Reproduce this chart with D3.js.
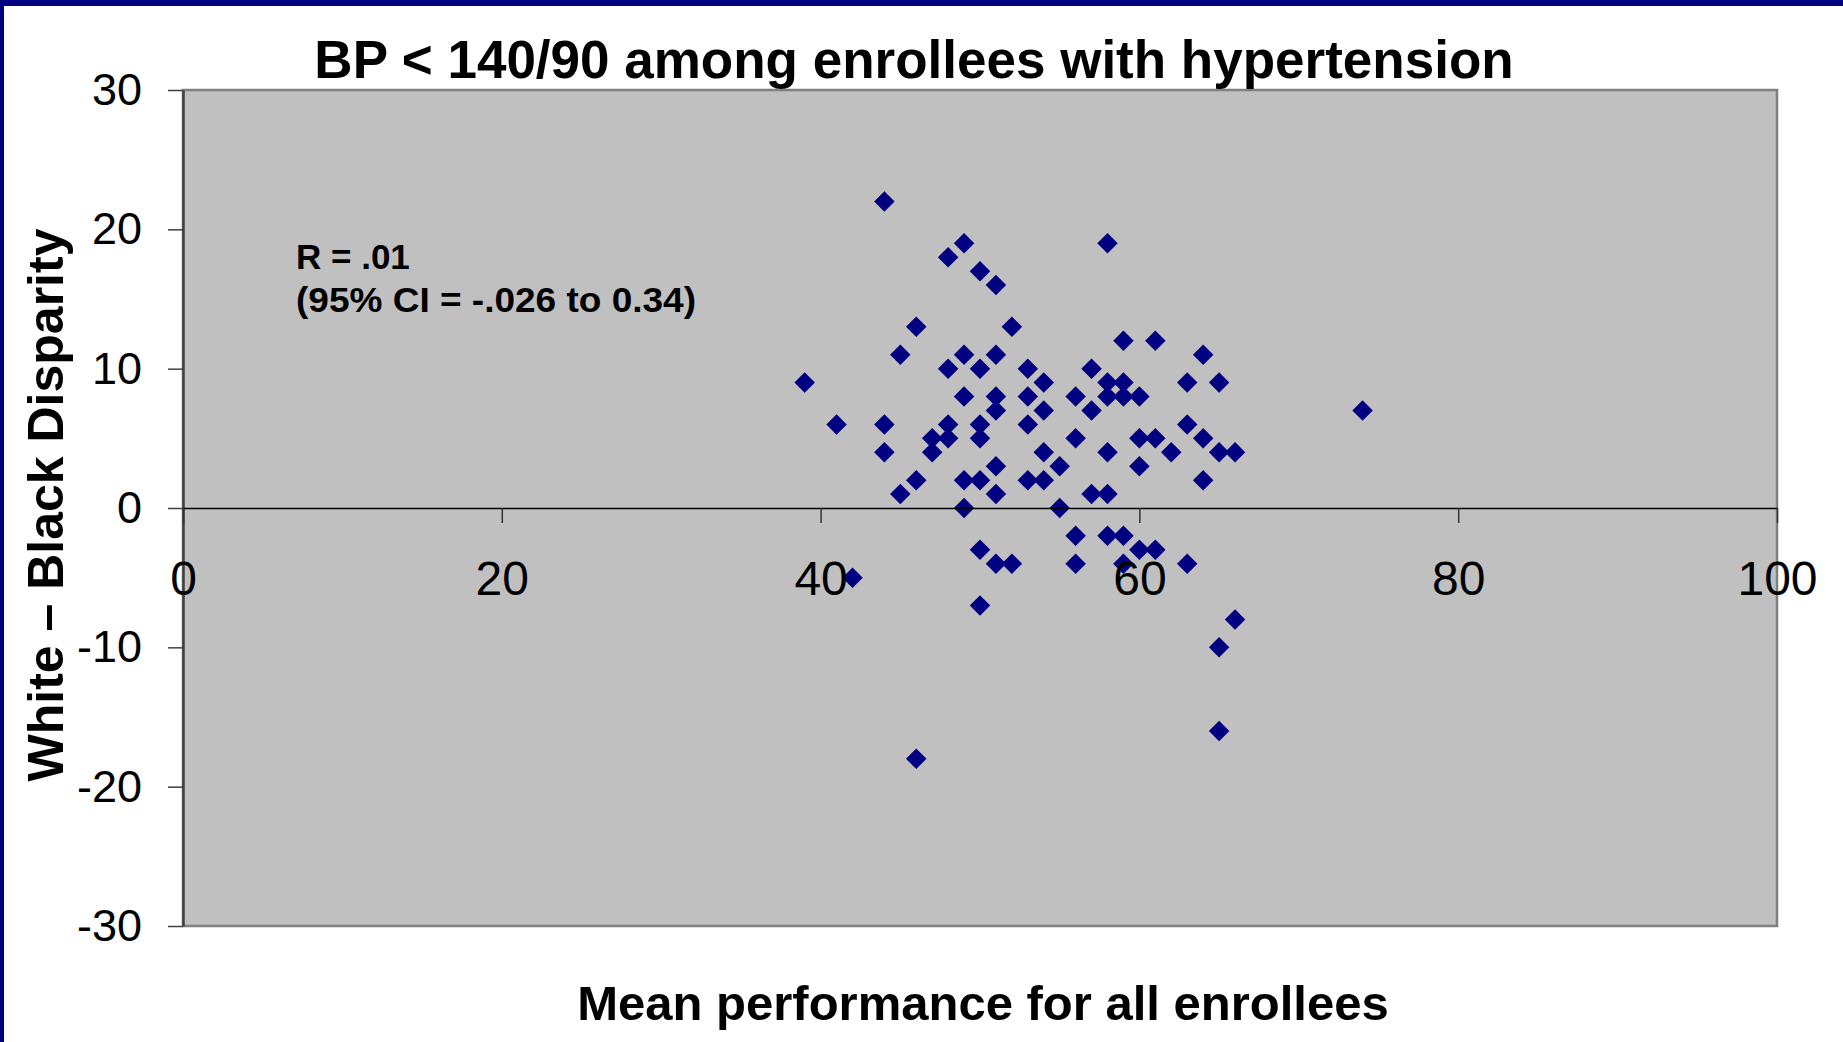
<!DOCTYPE html>
<html lang="en">
<head>
    <meta charset="UTF-8">
    <title>BP &lt; 140/90 among enrollees with hypertension</title>
    <script src="https://d3js.org/d3.v7.min.js"></script>
    <style>
        body {
            margin: 0;
            background: #fff;
        }
        svg {
            display: block;
        }
        text {
            font-family: "Liberation Sans", Arial, sans-serif;
        }
    </style>
</head>
<body>
<div id="chart"></div>
<script>
    const width = 1843;
    const height = 1042;

    // mean performance for all enrollees (x) and white - black disparity (y)
    const meanPerformance = [
        39, 41, 42, 44, 44, 44, 45, 45, 46, 46, 46, 47, 47,
        48, 48, 48, 48, 49, 49, 49, 49, 49,
        50, 50, 50, 50, 50, 50, 50,
        51, 51, 51, 51, 51, 51, 51, 52, 52,
        53, 53, 53, 53, 54, 54, 54, 54, 55, 55,
        56, 56, 56, 56, 57, 57, 57,
        58, 58, 58, 58, 58, 58,
        59, 59, 59, 59, 59, 60, 60, 60, 60,
        61, 61, 61, 62, 63, 63, 63, 64, 64, 64,
        65, 65, 65, 65, 66, 66, 74
    ];
    const disparity = [
        9, 6, -5, 22, 6, 4, 11, 1, 13, 2, -18, 5, 4,
        18, 10, 6, 5, 19, 11, 8, 2, 0,
        17, 10, 6, 5, 2, -3, -7,
        16, 11, 8, 7, 3, 1, -4, 13, -4,
        10, 8, 6, 2, 9, 7, 4, 2, 3, 0,
        8, 5, -2, -4, 10, 7, 1,
        19, 9, 8, 4, 1, -2,
        12, 9, 8, -2, -4, 8, 5, 3, -3,
        12, 5, -3, 4, 9, 6, -4, 11, 5, 2,
        9, 4, -10, -16, 4, -8, 7
    ];

    const xTicks = [0, 20, 40, 60, 80, 100];
    const yTicks = [-30, -20, -10, 0, 10, 20, 30];

    const titleText = "BP < 140/90 among enrollees with hypertension";
    const xTitle = "Mean performance for all enrollees";
    const yTitle = "White \u2013 Black Disparity";
    const noteLines = ["R = .01", "(95% CI = -.026 to 0.34)"];

    const points = meanPerformance.map((v, i) => ({x: v, y: disparity[i]}));

    const plot = {left: 183, right: 1777, top: 90, bottom: 926};

    const x = d3.scaleLinear().domain([0, 100]).range([plot.left, plot.right]);
    const y = d3.scaleLinear().domain([-30, 30]).range([plot.bottom, plot.top]);

    const svg = d3.select("#chart").append("svg")
        .attr("width", width)
        .attr("height", height);

    // navy slide frame (top and left)
    svg.append("rect").attr("x", 0).attr("y", 0).attr("width", width).attr("height", 6).attr("fill", "#000080");
    svg.append("rect").attr("x", 0).attr("y", 0).attr("width", 4).attr("height", height).attr("fill", "#000080");

    // plot area
    svg.append("rect")
        .attr("x", plot.left)
        .attr("y", plot.top)
        .attr("width", plot.right - plot.left)
        .attr("height", plot.bottom - plot.top)
        .attr("fill", "#c0c0c0")
        .attr("stroke", "#808080")
        .attr("stroke-width", 2.5);

    // points
    const diamond = d3.symbol().type(d3.symbolSquare).size(210);
    svg.append("g")
        .selectAll("path")
        .data(points)
        .join("path")
        .attr("d", diamond)
        .attr("transform", d => `translate(${x(d.x)},${y(d.y)}) rotate(45)`)
        .attr("fill", "#000080");

    // y axis (plain hyphen for negatives, like the original)
    const yAxis = svg.append("g")
        .attr("transform", `translate(${plot.left},0)`)
        .call(d3.axisLeft(y).tickValues(yTicks).tickSize(15).tickSizeOuter(0).tickPadding(26)
            .tickFormat(d => String(d)));
    yAxis.select(".domain").attr("stroke", "#404040").attr("stroke-width", 2.5);
    yAxis.selectAll(".tick line").attr("stroke", "#404040").attr("stroke-width", 1.5);
    yAxis.selectAll(".tick text")
        .attr("fill", "#000")
        .style("font-size", "45px");

    // x axis along zero line
    const xAxis = svg.append("g")
        .attr("transform", `translate(0,${y(0)})`)
        .call(d3.axisBottom(x).tickValues(xTicks).tickSize(15).tickSizeOuter(0));
    xAxis.select(".domain").attr("stroke", "#000").attr("stroke-width", 1.5);
    xAxis.selectAll(".tick line").attr("stroke", "#333").attr("stroke-width", 1.5);
    xAxis.selectAll(".tick text")
        .attr("y", 87)
        .attr("dy", null)
        .attr("fill", "#000")
        .style("font-size", "48px");

    // title
    svg.append("text")
        .attr("x", 914)
        .attr("y", 78)
        .attr("text-anchor", "middle")
        .style("font-size", "53px")
        .style("font-weight", "bold")
        .text(titleText);

    // axis titles
    svg.append("text")
        .attr("x", 983)
        .attr("y", 1020)
        .attr("text-anchor", "middle")
        .style("font-size", "49px")
        .style("font-weight", "bold")
        .text(xTitle);

    svg.append("text")
        .attr("transform", "translate(63,505) rotate(-90)")
        .attr("text-anchor", "middle")
        .style("font-size", "50px")
        .style("font-weight", "bold")
        .text(yTitle);

    // correlation note
    svg.append("g")
        .selectAll("text")
        .data(noteLines)
        .join("text")
        .attr("x", 296)
        .attr("y", (d, i) => 269 + i * 43)
        .attr("textLength", (d, i) => i === 1 ? 400 : null)
        .attr("lengthAdjust", "spacingAndGlyphs")
        .style("font-size", "35px")
        .style("font-weight", "bold")
        .text(d => d);
</script>
</body>
</html>
